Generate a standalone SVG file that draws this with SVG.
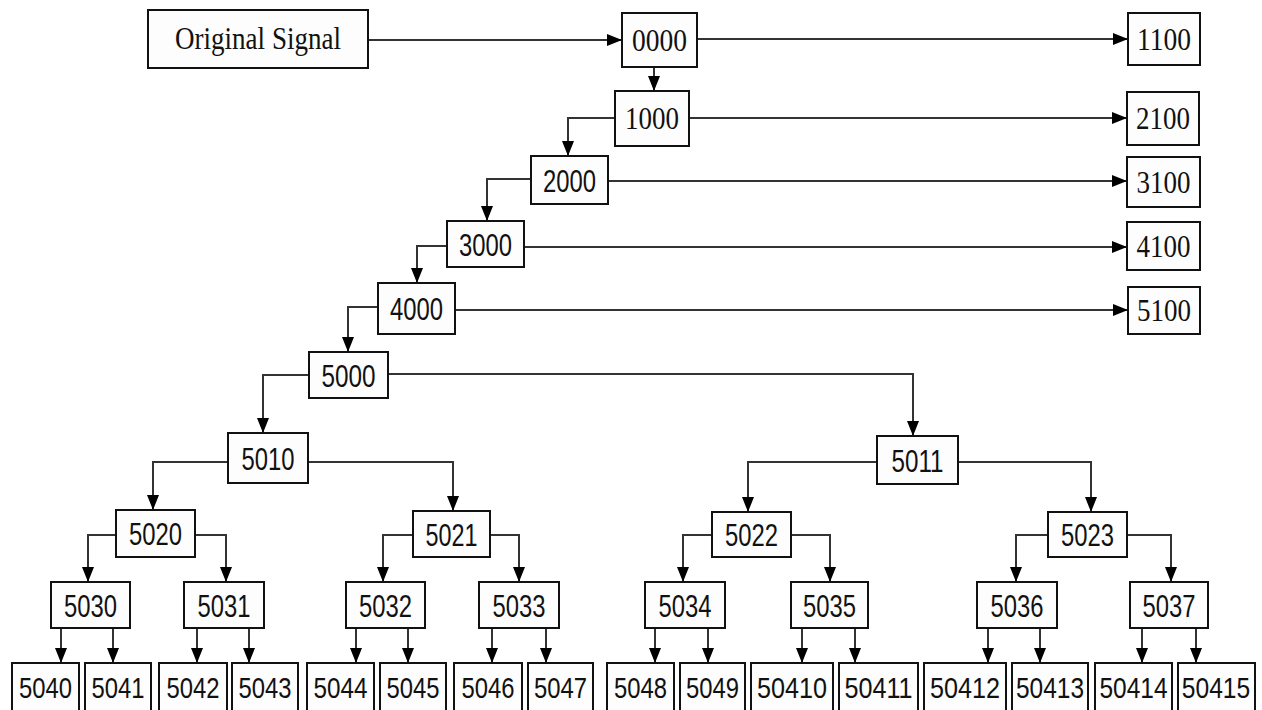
<svg xmlns="http://www.w3.org/2000/svg" width="1262" height="710" viewBox="0 0 1262 710">
<style>
rect{fill:#fdfdfd;stroke:#111;stroke-width:2}
.s{font-family:"Liberation Serif",serif;font-size:32px;fill:#111;text-anchor:middle}
.a{font-family:"Liberation Sans",sans-serif;font-size:31px;fill:#111;text-anchor:middle}
.l{font-family:"Liberation Sans",sans-serif;font-size:30px;fill:#111;text-anchor:middle}
#edges path{fill:none;stroke:#333;stroke-width:2;marker-end:url(#ah)}
</style>
<defs>
<marker id="ah" viewBox="0 0 15 12" refX="15" refY="6" markerWidth="15" markerHeight="12" markerUnits="userSpaceOnUse" orient="auto">
<path d="M0,0 L15,6 L0,12 z" fill="#000"/>
</marker>
</defs>
<rect x="0" y="0" width="1262" height="710" style="fill:#fff;stroke:none"/>
<g id="edges">
<path d="M368,40 H622"/>
<path d="M697,39 H1128"/>
<path d="M654,67 V91"/>
<path d="M689,118 H1127"/>
<path d="M615,118 H568 V156"/>
<path d="M608,181 H1127"/>
<path d="M531,179 H487 V221"/>
<path d="M524,247 H1127"/>
<path d="M447,246 H417 V283"/>
<path d="M455,310 H1128"/>
<path d="M378,307 H348 V352"/>
<path d="M309,375 H263 V433"/>
<path d="M388,374 H913 V436"/>
<path d="M228,462 H153 V510"/>
<path d="M308,462 H453 V511"/>
<path d="M877,462 H748 V512"/>
<path d="M958,462 H1091 V512"/>
<path d="M116,535 H88 V582"/>
<path d="M195,535 H226 V582"/>
<path d="M413,535 H383 V582"/>
<path d="M490,535 H519 V582"/>
<path d="M712,535 H683 V582"/>
<path d="M791,535 H830 V582"/>
<path d="M1048,535 H1016 V582"/>
<path d="M1127,535 H1171 V582"/>
<path d="M61,628 V663"/>
<path d="M113,628 V663"/>
<path d="M197,628 V663"/>
<path d="M249,628 V663"/>
<path d="M356,628 V663"/>
<path d="M408,628 V663"/>
<path d="M492,628 V663"/>
<path d="M546,628 V663"/>
<path d="M655,628 V663"/>
<path d="M708,628 V663"/>
<path d="M802,628 V663"/>
<path d="M855,628 V663"/>
<path d="M988,628 V663"/>
<path d="M1040,628 V663"/>
<path d="M1142,628 V663"/>
<path d="M1196,628 V663"/>
</g>
<g id="orig"><rect x="148" y="10" width="220" height="58"/><text class="s" x="258" y="49" font-size="27" textLength="166" lengthAdjust="spacingAndGlyphs">Original Signal</text></g>
<g id="n0000"><rect x="622" y="13" width="75" height="54"/><text class="s" x="659.5" y="51" textLength="55" lengthAdjust="spacingAndGlyphs">0000</text></g>
<g id="n1100"><rect x="1128" y="13" width="72" height="52"/><text class="s" x="1164" y="50" textLength="54" lengthAdjust="spacingAndGlyphs">1100</text></g>
<g id="n1000"><rect x="615" y="91" width="74" height="55"/><text class="s" x="652" y="129" textLength="54" lengthAdjust="spacingAndGlyphs">1000</text></g>
<g id="n2100"><rect x="1127" y="92" width="72" height="53"/><text class="s" x="1163" y="129" textLength="54" lengthAdjust="spacingAndGlyphs">2100</text></g>
<g id="n2000"><rect x="531" y="156" width="77" height="48"/><text class="a" x="569.5" y="192" textLength="53" lengthAdjust="spacingAndGlyphs">2000</text></g>
<g id="n3100"><rect x="1127" y="157" width="73" height="50"/><text class="s" x="1163.5" y="193" textLength="54" lengthAdjust="spacingAndGlyphs">3100</text></g>
<g id="n3000"><rect x="447" y="221" width="77" height="46"/><text class="a" x="485.5" y="256" textLength="53" lengthAdjust="spacingAndGlyphs">3000</text></g>
<g id="n4100"><rect x="1127" y="222" width="73" height="48"/><text class="s" x="1163.5" y="257" textLength="54" lengthAdjust="spacingAndGlyphs">4100</text></g>
<g id="n4000"><rect x="378" y="283" width="77" height="51"/><text class="a" x="416.5" y="320" textLength="53" lengthAdjust="spacingAndGlyphs">4000</text></g>
<g id="n5100"><rect x="1128" y="287" width="72" height="47"/><text class="s" x="1164" y="321" textLength="54" lengthAdjust="spacingAndGlyphs">5100</text></g>
<g id="n5000"><rect x="309" y="352" width="79" height="46"/><text class="a" x="348.5" y="387" textLength="54" lengthAdjust="spacingAndGlyphs">5000</text></g>
<g id="n5010"><rect x="228" y="433" width="80" height="50"/><text class="a" x="268" y="470" textLength="53" lengthAdjust="spacingAndGlyphs">5010</text></g>
<g id="n5011"><rect x="877" y="436" width="81" height="48"/><text class="a" x="917.5" y="472" textLength="52" lengthAdjust="spacingAndGlyphs">5011</text></g>
<g id="n5020"><rect x="116" y="510" width="79" height="47"/><text class="a" x="155.5" y="545" textLength="53" lengthAdjust="spacingAndGlyphs">5020</text></g>
<g id="n5021"><rect x="413" y="511" width="77" height="46"/><text class="a" x="451.5" y="546" textLength="52" lengthAdjust="spacingAndGlyphs">5021</text></g>
<g id="n5022"><rect x="712" y="512" width="79" height="45"/><text class="a" x="751.5" y="546" textLength="53" lengthAdjust="spacingAndGlyphs">5022</text></g>
<g id="n5023"><rect x="1048" y="512" width="79" height="45"/><text class="a" x="1087.5" y="546" textLength="53" lengthAdjust="spacingAndGlyphs">5023</text></g>
<g id="n5030"><rect x="51" y="582" width="79" height="46"/><text class="a" x="90.5" y="617" textLength="53" lengthAdjust="spacingAndGlyphs">5030</text></g>
<g id="n5031"><rect x="184" y="582" width="80" height="46"/><text class="a" x="224" y="617" textLength="53" lengthAdjust="spacingAndGlyphs">5031</text></g>
<g id="n5032"><rect x="346" y="582" width="79" height="46"/><text class="a" x="385.5" y="617" textLength="53" lengthAdjust="spacingAndGlyphs">5032</text></g>
<g id="n5033"><rect x="479" y="582" width="80" height="46"/><text class="a" x="519" y="617" textLength="53" lengthAdjust="spacingAndGlyphs">5033</text></g>
<g id="n5034"><rect x="645" y="582" width="80" height="46"/><text class="a" x="685" y="617" textLength="53" lengthAdjust="spacingAndGlyphs">5034</text></g>
<g id="n5035"><rect x="791" y="582" width="77" height="46"/><text class="a" x="829.5" y="617" textLength="53" lengthAdjust="spacingAndGlyphs">5035</text></g>
<g id="n5036"><rect x="977" y="582" width="80" height="46"/><text class="a" x="1017" y="617" textLength="53" lengthAdjust="spacingAndGlyphs">5036</text></g>
<g id="n5037"><rect x="1130" y="582" width="78" height="46"/><text class="a" x="1169" y="617" textLength="53" lengthAdjust="spacingAndGlyphs">5037</text></g>
<g id="n5040"><rect x="12" y="663" width="67" height="52"/><text class="l" x="45.5" y="698" textLength="53" lengthAdjust="spacingAndGlyphs">5040</text></g>
<g id="n5041"><rect x="85" y="663" width="66" height="52"/><text class="l" x="118" y="698" textLength="53" lengthAdjust="spacingAndGlyphs">5041</text></g>
<g id="n5042"><rect x="159" y="663" width="68" height="52"/><text class="l" x="193" y="698" textLength="53" lengthAdjust="spacingAndGlyphs">5042</text></g>
<g id="n5043"><rect x="232" y="663" width="66" height="52"/><text class="l" x="265" y="698" textLength="53" lengthAdjust="spacingAndGlyphs">5043</text></g>
<g id="n5044"><rect x="307" y="663" width="67" height="52"/><text class="l" x="340.5" y="698" textLength="54" lengthAdjust="spacingAndGlyphs">5044</text></g>
<g id="n5045"><rect x="380" y="663" width="66" height="52"/><text class="l" x="413" y="698" textLength="53" lengthAdjust="spacingAndGlyphs">5045</text></g>
<g id="n5046"><rect x="454" y="663" width="68" height="52"/><text class="l" x="488" y="698" textLength="53" lengthAdjust="spacingAndGlyphs">5046</text></g>
<g id="n5047"><rect x="528" y="663" width="65" height="52"/><text class="l" x="560.5" y="698" textLength="53" lengthAdjust="spacingAndGlyphs">5047</text></g>
<g id="n5048"><rect x="607" y="663" width="67" height="52"/><text class="l" x="640.5" y="698" textLength="53" lengthAdjust="spacingAndGlyphs">5048</text></g>
<g id="n5049"><rect x="680" y="663" width="65" height="52"/><text class="l" x="712.5" y="698" textLength="53" lengthAdjust="spacingAndGlyphs">5049</text></g>
<g id="n50410"><rect x="751" y="663" width="82" height="52"/><text class="l" x="792" y="698" textLength="70" lengthAdjust="spacingAndGlyphs">50410</text></g>
<g id="n50411"><rect x="839" y="663" width="79" height="52"/><text class="l" x="878.5" y="698" textLength="68" lengthAdjust="spacingAndGlyphs">50411</text></g>
<g id="n50412"><rect x="924" y="663" width="82" height="52"/><text class="l" x="965" y="698" textLength="70" lengthAdjust="spacingAndGlyphs">50412</text></g>
<g id="n50413"><rect x="1012" y="663" width="76" height="52"/><text class="l" x="1050" y="698" textLength="68" lengthAdjust="spacingAndGlyphs">50413</text></g>
<g id="n50414"><rect x="1095" y="663" width="77" height="52"/><text class="l" x="1133.5" y="698" textLength="68" lengthAdjust="spacingAndGlyphs">50414</text></g>
<g id="n50415"><rect x="1178" y="663" width="77" height="52"/><text class="l" x="0" y="0" transform="translate(1216,698) scale(0.82,1)">50415</text></g>
</svg>
